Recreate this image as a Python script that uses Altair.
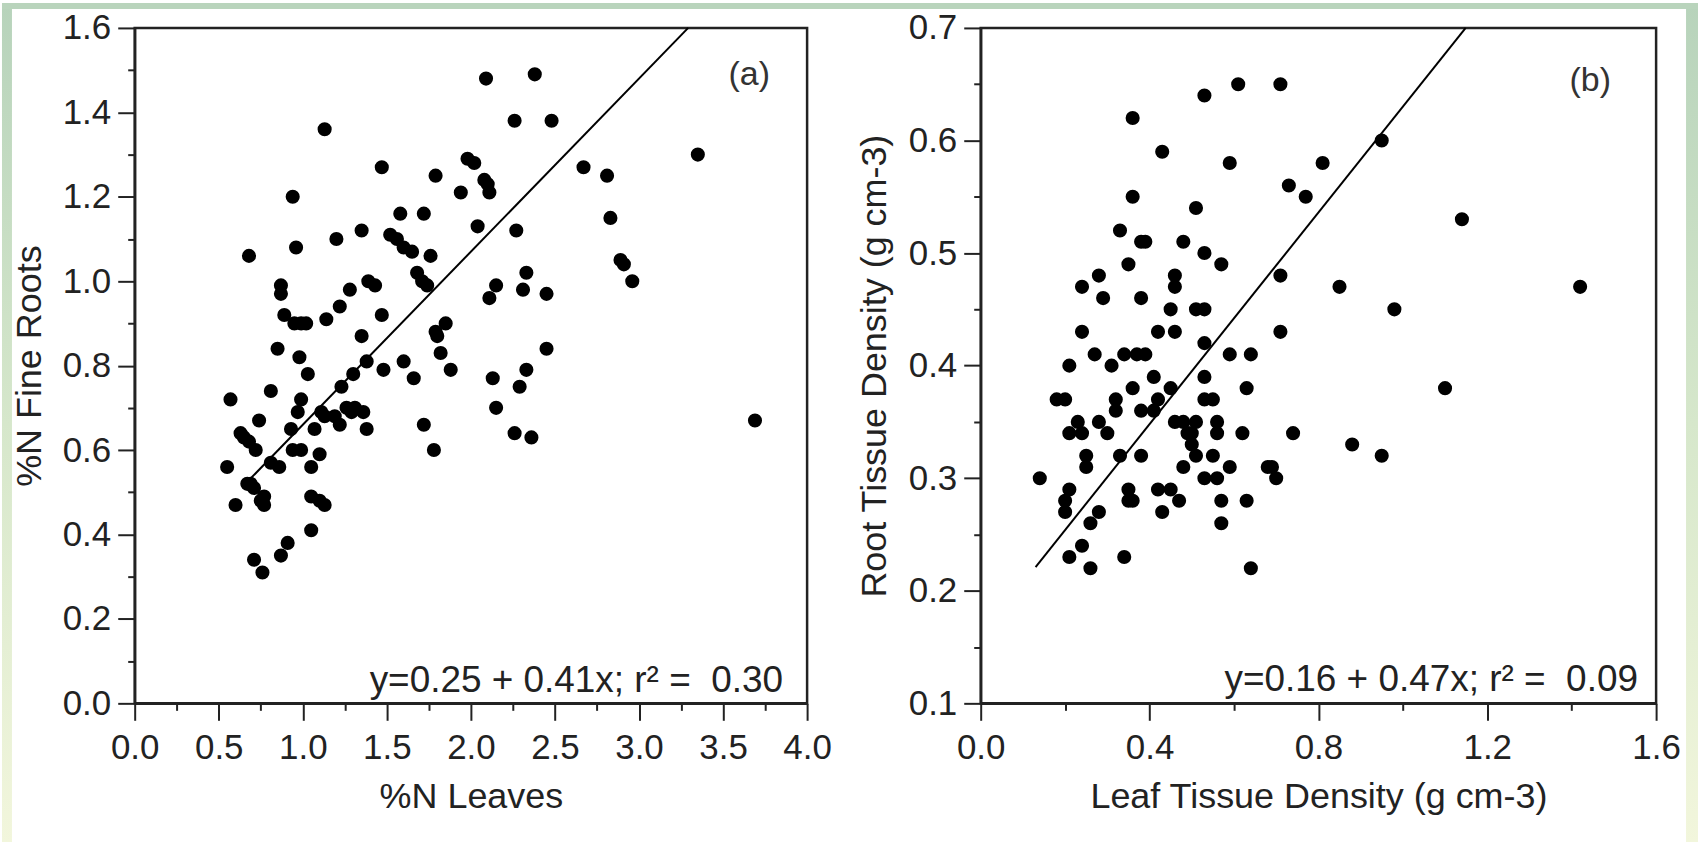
import altair as alt
import pandas as pd

# ---- panel (a): %N in leaves vs %N in fine roots ----
n_leaves = [1.13, 2.09, 2.38, 2.26, 2.48, 3.35, 1.47, 1.98, 2.02, 1.79, 2.67, 2.81, 0.94, 1.94,
            2.08, 2.10, 2.11, 1.72, 1.58, 2.04, 2.83, 1.35, 1.20, 2.27, 1.52, 1.56, 1.60, 1.65,
            1.76, 0.68, 0.96, 1.68, 1.71, 1.74, 2.33, 2.89, 2.91, 2.96, 0.87, 0.87, 1.28, 1.39,
            1.43, 1.22, 0.89, 0.95, 0.99, 1.02, 1.14, 1.47, 2.15, 2.11, 2.31, 2.45, 1.35, 0.85,
            0.98, 1.03, 1.30, 1.38, 1.48, 1.60, 1.66, 1.79, 1.80, 1.85, 1.82, 1.88, 2.45, 2.13,
            2.33, 2.29, 2.15, 2.26, 2.36, 3.69, 0.57, 0.81, 1.23, 0.99, 0.97, 1.11, 1.13, 1.19,
            1.22, 1.26, 1.29, 1.31, 1.36, 1.38, 1.72, 1.78, 0.74, 0.93, 1.07, 0.63, 0.65, 0.68,
            0.72, 0.55, 0.81, 0.86, 0.94, 0.99, 1.05, 1.10, 0.67, 0.69, 0.71, 0.77, 0.75, 0.77,
            0.60, 1.05, 1.10, 1.13, 1.05, 0.91, 0.87, 0.71, 0.76]
n_roots = [1.36, 1.48, 1.49, 1.38, 1.38, 1.30, 1.27, 1.29, 1.28, 1.25, 1.27, 1.25, 1.20, 1.21,
           1.24, 1.23, 1.21, 1.16, 1.16, 1.13, 1.15, 1.12, 1.10, 1.12, 1.11, 1.10, 1.08, 1.07,
           1.06, 1.06, 1.08, 1.02, 1.00, 0.99, 1.02, 1.05, 1.04, 1.00, 0.99, 0.97, 0.98, 1.00,
           0.99, 0.94, 0.92, 0.90, 0.90, 0.90, 0.91, 0.92, 0.99, 0.96, 0.98, 0.97, 0.87, 0.84,
           0.82, 0.78, 0.78, 0.81, 0.79, 0.81, 0.77, 0.88, 0.87, 0.90, 0.83, 0.79, 0.84, 0.77,
           0.79, 0.75, 0.70, 0.64, 0.63, 0.67, 0.72, 0.74, 0.75, 0.72, 0.69, 0.69, 0.68, 0.68,
           0.66, 0.70, 0.69, 0.70, 0.69, 0.65, 0.66, 0.60, 0.67, 0.65, 0.65, 0.64, 0.63, 0.62,
           0.60, 0.56, 0.57, 0.56, 0.60, 0.60, 0.56, 0.59, 0.52, 0.52, 0.51, 0.49, 0.48, 0.47,
           0.47, 0.49, 0.48, 0.47, 0.41, 0.38, 0.35, 0.34, 0.31]

# ---- panel (b): leaf vs root tissue density ----
leaf_density = [0.14, 0.18, 0.20, 0.21, 0.21, 0.21, 0.20, 0.20, 0.21, 0.24, 0.24, 0.24, 0.23,
                0.24, 0.25, 0.25, 0.26, 0.26, 0.28, 0.27, 0.28, 0.29, 0.28, 0.30, 0.33, 0.31,
                0.32, 0.32, 0.33, 0.34, 0.35, 0.36, 0.36, 0.36, 0.35, 0.35, 0.36, 0.34, 0.38,
                0.39, 0.38, 0.37, 0.39, 0.38, 0.38, 0.41, 0.42, 0.41, 0.43, 0.42, 0.42, 0.43,
                0.45, 0.46, 0.45, 0.46, 0.46, 0.48, 0.45, 0.46, 0.48, 0.47, 0.48, 0.49, 0.50,
                0.50, 0.51, 0.51, 0.51, 0.51, 0.53, 0.53, 0.53, 0.57, 0.53, 0.53, 0.53, 0.55,
                0.56, 0.56, 0.53, 0.56, 0.55, 0.57, 0.57, 0.59, 0.59, 0.59, 0.61, 0.62, 0.64,
                0.63, 0.63, 0.64, 0.68, 0.69, 0.70, 0.71, 0.71, 0.71, 0.73, 0.74, 0.77, 0.81,
                0.85, 0.88, 0.95, 0.95, 0.98, 1.10, 1.14, 1.42]
root_density = [0.30, 0.37, 0.37, 0.40, 0.34, 0.29, 0.28, 0.27, 0.23, 0.24, 0.47, 0.43, 0.35,
                0.34, 0.32, 0.31, 0.26, 0.22, 0.27, 0.41, 0.48, 0.46, 0.35, 0.34, 0.52, 0.40,
                0.37, 0.36, 0.32, 0.41, 0.49, 0.55, 0.62, 0.38, 0.29, 0.28, 0.28, 0.23, 0.51,
                0.51, 0.46, 0.41, 0.41, 0.36, 0.32, 0.39, 0.37, 0.36, 0.59, 0.43, 0.29, 0.27,
                0.38, 0.43, 0.45, 0.47, 0.48, 0.51, 0.29, 0.35, 0.31, 0.28, 0.35, 0.34, 0.34,
                0.33, 0.32, 0.35, 0.54, 0.45, 0.45, 0.42, 0.50, 0.49, 0.64, 0.39, 0.37, 0.37,
                0.35, 0.34, 0.30, 0.30, 0.32, 0.28, 0.26, 0.41, 0.31, 0.58, 0.65, 0.34, 0.41,
                0.38, 0.28, 0.22, 0.31, 0.31, 0.30, 0.43, 0.48, 0.65, 0.56, 0.34, 0.55, 0.58,
                0.47, 0.33, 0.60, 0.32, 0.45, 0.38, 0.53, 0.47]

# tick positions (major + minor) for each axis
ticks_a_x = [0.0, 0.25, 0.5, 0.75, 1.0, 1.25, 1.5, 1.75, 2.0, 2.25, 2.5, 2.75, 3.0, 3.25, 3.5,
             3.75, 4.0]
ticks_a_y = [0.0, 0.1, 0.2, 0.3, 0.4, 0.5, 0.6, 0.7, 0.8, 0.9, 1.0, 1.1, 1.2, 1.3, 1.4, 1.5, 1.6]
ticks_b_x = [0.0, 0.2, 0.4, 0.6, 0.8, 1.0, 1.2, 1.4, 1.6]
ticks_b_y = [0.1, 0.15, 0.2, 0.25, 0.3, 0.35, 0.4, 0.45, 0.5, 0.55, 0.6, 0.65, 0.7]

# fitted regressions as printed on each panel
fit_a = {"b0": 0.25, "b1": 0.41, "r2": "0.30", "x_from": 0.65, "y_top": 1.6}
fit_b = {"b0": 0.16, "b1": 0.47, "r2": "0.09", "x_from": 0.13, "y_top": 0.7}

FONT = "Liberation Sans"
INK = "#222222"
NBSP = "\u00a0"


def fit_line(fit):
    x_end = (fit["y_top"] - fit["b0"]) / fit["b1"]
    xs = [fit["x_from"], x_end]
    return pd.DataFrame({"x": xs, "y": [fit["b0"] + fit["b1"] * v for v in xs]})


def axis(title, values, major_step, pad, title_pad, fmt=".1f"):
    is_major = f"abs(datum.value / {major_step} - round(datum.value / {major_step})) < 1e-6"
    return alt.Axis(
        title=title, values=values, grid=False,
        labelExpr=f"{is_major} ? format(datum.value, '{fmt}') : ''",
        tickSize={"condition": {"test": is_major, "value": 17}, "value": 7},
        labelPadding=pad, titlePadding=title_pad,
        labelFlush=False, labelOverlap=False, labelBound=False,
    )


def panel(xs, ys, fit, xdom, ydom, xaxis, yaxis, tag, tag_pos, eq_pos, width, height, frame=False):
    pts = pd.DataFrame({"x": xs, "y": ys})
    xs_ = alt.Scale(domain=xdom, nice=False, zero=False)
    ys_ = alt.Scale(domain=ydom, nice=False, zero=False)
    dots = alt.Chart(pts).mark_circle(size=200, color="black", opacity=1).encode(
        x=alt.X("x:Q", scale=xs_, axis=xaxis),
        y=alt.Y("y:Q", scale=ys_, axis=yaxis),
    )
    line = alt.Chart(fit_line(fit)).mark_line(color="black", strokeWidth=2).encode(
        x=alt.X("x:Q", scale=xs_), y=alt.Y("y:Q", scale=ys_)
    )
    eq = (f"y={fit['b0']:.2f} + {fit['b1']:.2f}x; r\u00b2 ={NBSP}{NBSP}{fit['r2']}")
    notes = pd.DataFrame({"x": [eq_pos[0], tag_pos[0]], "y": [eq_pos[1], tag_pos[1]],
                          "t": [eq, tag]})
    eq_text = alt.Chart(notes.iloc[[0]]).mark_text(
        align="right", baseline="alphabetic", fontSize=37, font=FONT, color=INK
    ).encode(x=alt.X("x:Q", scale=xs_), y=alt.Y("y:Q", scale=ys_), text="t:N")
    tag_text = alt.Chart(notes.iloc[[1]]).mark_text(
        align="center", baseline="middle", fontSize=34, font=FONT, color="#333333"
    ).encode(x=alt.X("x:Q", scale=xs_), y=alt.Y("y:Q", scale=ys_), text="t:N")
    layers = [dots, line, eq_text, tag_text]
    if frame:
        # soft green-to-cream page border around the figure
        one = pd.DataFrame({"k": [0]})
        grad = alt.Gradient(
            gradient="linear", x1=0, x2=0, y1=0, y2=1,
            stops=[alt.GradientStop(offset=0, color="#b7d3bb"),
                   alt.GradientStop(offset=0.5, color="#d6e7cb"),
                   alt.GradientStop(offset=1, color="#f2f6dc")],
        )
        left = alt.Chart(one).mark_rect(fill=grad).encode(
            x=alt.value(-133), x2=alt.value(-123), y=alt.value(-25), y2=alt.value(817))
        right = alt.Chart(one).mark_rect(fill=grad).encode(
            x=alt.value(1555), x2=alt.value(1567), y=alt.value(-25), y2=alt.value(817))
        top = alt.Chart(one).mark_rect(fill="#b9d4bc").encode(
            x=alt.value(-133), x2=alt.value(1567), y=alt.value(-25), y2=alt.value(-19))
        layers = [left, right, top] + layers
    return alt.layer(*layers).properties(width=width, height=height)


panel_a = panel(
    n_leaves, n_roots, fit_a, [0, 4], [0, 1.6],
    axis("%N Leaves", ticks_a_x, 0.5, 10, 14),
    axis("%N Fine Roots", ticks_a_y, 0.2, 7, 14),
    "(a)", (3.656, 1.489), (3.857, 0.028), 674, 677, frame=True,
)
panel_b = panel(
    leaf_density, root_density, fit_b, [0, 1.6], [0.1, 0.7],
    axis("Leaf Tissue Density (g cm-3)", ticks_b_x, 0.4, 10, 14),
    axis("Root Tissue Density (g cm-3)", ticks_b_y, 0.1, 7, 15),
    "(b)", (1.444, 0.653), (1.557, 0.1107), 677, 677,
)

chart = alt.hconcat(panel_a, panel_b, spacing=174, bounds="flush").properties(
    padding=0, background="white"
).configure(font=FONT).configure_view(
    stroke=INK, strokeWidth=2.5
).configure_axis(
    domainColor=INK, domainWidth=2.5, tickColor=INK, tickWidth=2,
    labelFont=FONT, labelFontSize=35, labelColor=INK,
    titleFont=FONT, titleFontSize=36, titleFontWeight="normal", titleColor=INK,
)

chart.save("out.html", embed_options={"renderer": "svg", "actions": False})
